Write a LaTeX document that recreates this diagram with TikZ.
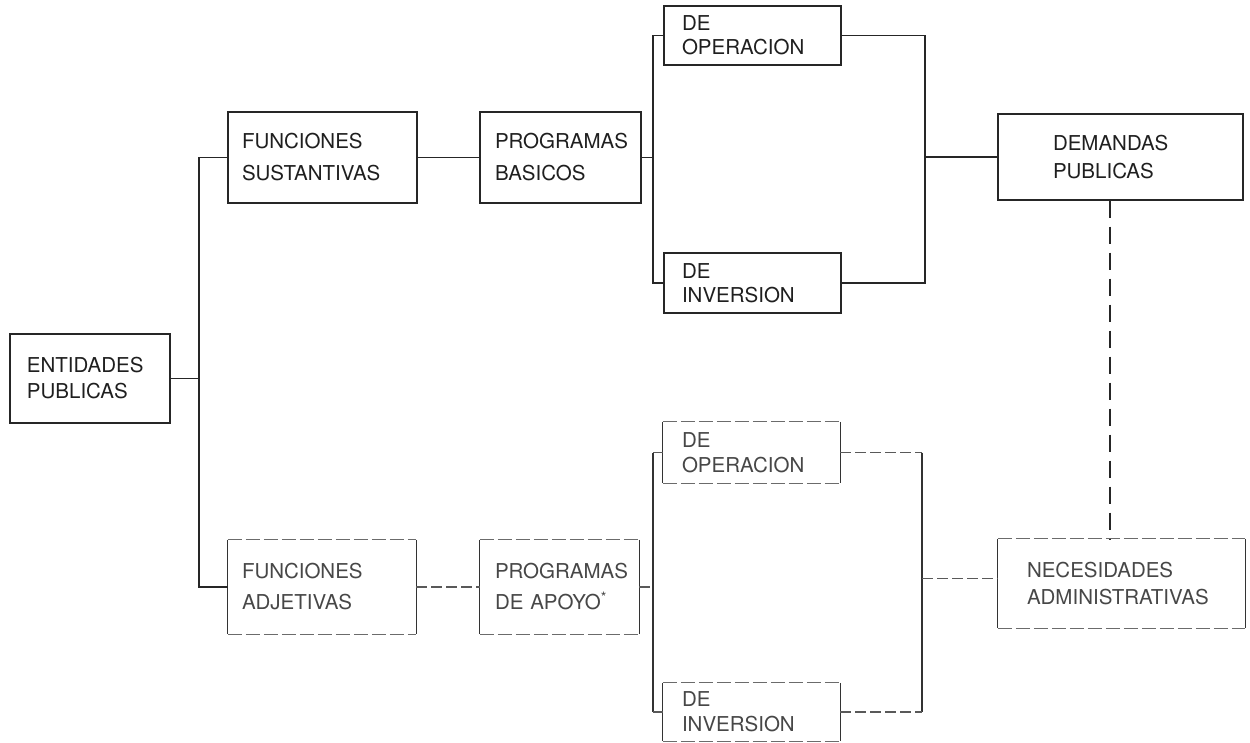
\documentclass[tikz,border=0pt]{standalone}
\usepackage{fontspec}
\setmainfont{TeX Gyre Heros}
\hbadness=10000 \hfuzz=200pt
\begin{document}
\begin{tikzpicture}[x=1pt,y=-1pt,
  boxbase/.style={rectangle, inner ysep=0pt, align=left, text=black!88},
  upbox/.style={boxbase, draw=black!85, line width=1.3pt},
  lowbox/.style={boxbase, draw=none, text=black!72},
  conn/.style={line width=1.3pt, black!85},
  side/.style={line width=1.3pt, black!80},
  faint/.style={line width=1.1pt, black!58, dash pattern=on 14pt off 4pt},
  lowlink/.style={line width=1.1pt, black!65, dash pattern=on 11pt off 4pt},
  dashlink/.style={line width=2pt, black!85, dash pattern=on 17pt off 9pt}]
\useasboundingbox (0,0) rectangle (1250,743);
\fill[white] (0,0) rectangle (1250,743);

% boxes
\node[upbox, minimum width=160pt, minimum height=89pt, inner xsep=17pt, text width=126pt,
  font=\fontsize{20.5}{26}\selectfont] (ent) at (90,378.5) {ENTIDADES\\PUBLICAS};
\node[upbox, minimum width=189pt, minimum height=91pt, inner xsep=14pt, text width=161pt,
  font=\fontsize{20.5}{32}\selectfont] (fs) at (322.5,157.5) {FUNCIONES\\SUSTANTIVAS};
\node[upbox, minimum width=161pt, minimum height=91pt, inner xsep=15pt, text width=131pt,
  font=\fontsize{20.5}{32}\selectfont] (pb) at (560.5,157.5) {PROGRAMAS\\BASICOS};
\node[upbox, minimum width=177pt, minimum height=59pt, inner xsep=18pt, text width=141pt,
  font=\fontsize{20.5}{24}\selectfont] (op1) at (752.5,35.5) {DE\\OPERACION};
\node[upbox, minimum width=177pt, minimum height=60pt, inner xsep=18pt, text width=141pt,
  font=\fontsize{20.5}{24}\selectfont] (in1) at (752.5,283) {DE\\INVERSION};
\node[upbox, minimum width=245pt, minimum height=86pt, inner xsep=55pt, text width=135pt,
  font=\fontsize{20.5}{28}\selectfont] (dem) at (1120.5,157) {DEMANDAS\\PUBLICAS};

\node[lowbox, minimum width=188pt, minimum height=94pt, inner xsep=14pt, text width=160pt,
  font=\fontsize{20.5}{31}\selectfont] (fa) at (322,587) {FUNCIONES\\ADJETIVAS};
\node[lowbox, minimum width=159pt, minimum height=94pt, inner xsep=15pt, text width=129pt,
  font=\fontsize{20.5}{31}\selectfont] (pa) at (559.5,587) {PROGRAMAS\\DE APOYO\textsuperscript{*}};
\node[lowbox, minimum width=177pt, minimum height=61pt, inner xsep=19pt, text width=139pt,
  font=\fontsize{20.5}{25}\selectfont] (op2) at (751.5,452.5) {DE\\OPERACION};
\node[lowbox, minimum width=177pt, minimum height=58pt, inner xsep=19pt, text width=139pt,
  font=\fontsize{20.5}{25}\selectfont] (in2) at (751.5,712) {DE\\INVERSION};
\node[lowbox, minimum width=247pt, minimum height=89pt, inner xsep=29pt, text width=189pt,
  font=\fontsize{20.5}{27}\selectfont] (nec) at (1121.5,583.5) {NECESIDADES\\ADMINISTRATIVAS};

% faded outlines of the lower boxes
\foreach \n in {fa,pa,op2,in2,nec}{
  \draw[side] (\n.north west) -- (\n.south west);
  \draw[side] (\n.north east) -- (\n.south east);
  \draw[faint] (\n.north west) -- (\n.north east);
  \draw[faint] (\n.south west) -- (\n.south east);
}

% reference x positions
\coordinate (ta) at (199,0);
\coordinate (tb) at (653,0);
\coordinate (tc) at (925,0);
\coordinate (td) at (922,0);
\coordinate (dx) at (1110,0);

% upper connectors
\draw[conn] (ent.east) -- (ent.east -| ta);
\draw[conn] (fs.west) -- (fs.west -| ta) -- (fa.west -| ta) -- (fa.west);
\draw[conn] (fs.east) -- (pb.west);
\draw[conn] (pb.east) -- (pb.east -| tb);
\draw[conn] (op1.west) -- (op1.west -| tb) -- (in1.west -| tb) -- (in1.west);
\draw[conn] (op1.east) -- (op1.east -| tc) -- (in1.east -| tc) -- (in1.east);
\draw[conn] (dem.west -| tc) -- (dem.west);

% lower connectors
\draw[lowlink] (fa.east) -- (pa.west);
\draw[lowlink] (pa.east) -- (pa.east -| tb);
\draw[side] (op2.west -| tb) -- (in2.west -| tb);
\draw[lowlink] (op2.west -| tb) -- (op2.west);
\draw[lowlink] (in2.west -| tb) -- (in2.west);
\draw[lowlink] (op2.east) -- (op2.east -| td);
\draw[side] (op2.east -| td) -- (in2.east -| td);
\draw[lowlink] (in2.east) -- (in2.east -| td);
\draw[lowlink] ([yshift=5pt]nec.west -| td) -- ([yshift=5pt]nec.west);

% dashed link
\draw[dashlink] (dem.south -| dx) -- (nec.north -| dx);
\end{tikzpicture}
\end{document}
